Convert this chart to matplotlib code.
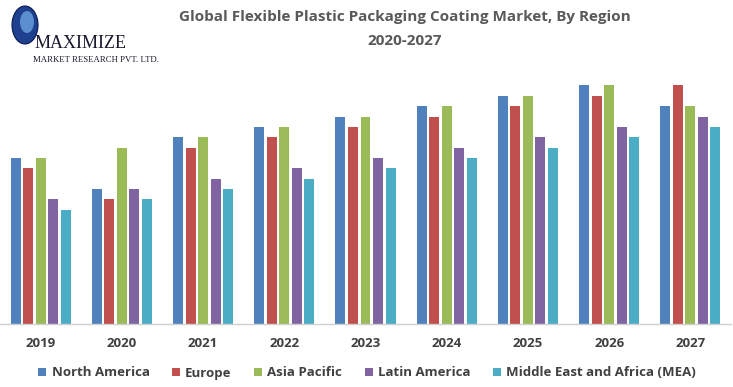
import matplotlib
matplotlib.use("Agg")
import matplotlib.pyplot as plt
import numpy as np
from matplotlib.patches import Ellipse

years = ["2019", "2020", "2021", "2022", "2023", "2024", "2025", "2026", "2027"]
regions = ["North America", "Europe", "Asia Pacific", "Latin America", "Middle East and Africa (MEA)"]
north_america = [16, 13, 18, 19, 20, 21, 22, 23, 21]
europe = [15, 12, 17, 18, 19, 20, 21, 22, 23]
asia_pacific = [16, 17, 18, 19, 20, 21, 22, 23, 21]
latin_america = [12, 13, 14, 15, 16, 17, 18, 19, 20]
mea = [11, 12, 13, 14, 15, 16, 17, 18, 19]
colors = ["#4F81BD", "#C0504D", "#9BBB59", "#8064A2", "#4BACC6"]

series = [north_america, europe, asia_pacific, latin_america, mea]

W, H = 733, 387
fig = plt.figure(figsize=(W / 100, H / 100), dpi=100)
plt.rcParams['font.family'] = ['Open Sans', 'DejaVu Sans']

base_px = 323.5
top_px = 75
ax = fig.add_axes([0, (H - base_px) / H, 731 / W, (base_px - top_px) / H])
x = np.arange(len(years))
bw = 0.123
pitch = 0.154
for i, (vals, c, name) in enumerate(zip(series, colors, regions)):
    ax.bar(x + (i - 2) * pitch, vals, width=bw, color=c, label=name)
ax.set_xlim(-0.5, len(years) - 0.5)
ax.set_ylim(0, (base_px - top_px) / 10.35)
for s in ["top", "right", "left"]:
    ax.spines[s].set_visible(False)
ax.spines["bottom"].set_color("#D0D0D0")
ax.spines["bottom"].set_linewidth(1.0)
ax.set_yticks([])
ax.set_xticks(x)
ax.set_xticklabels(years, fontsize=9.5, fontweight="bold", color="#404040")
ax.tick_params(axis="x", length=0, pad=10)

leg = fig.legend(loc="center", bbox_to_anchor=(367 / W, (H - 373) / H), ncol=5, frameon=False,
                 handlelength=0.6, handleheight=0.6, handletextpad=0.4, columnspacing=1.7,
                 prop={"size": 9.5, "weight": "bold"})
for t in leg.get_texts():
    t.set_color("#404040")

fig.text(405 / W, 1 - 17 / H, "Global Flexible Plastic Packaging Coating Market, By Region",
         ha="center", va="center", fontsize=11, fontweight="bold", color="#595959")
fig.text(405 / W, 1 - 41 / H, "2020-2027",
         ha="center", va="center", fontsize=11, fontweight="bold", color="#595959")

# logo
fig.patches.append(Ellipse((25 / W, 1 - 25 / H), 26 / W, 38 / H, transform=fig.transFigure,
                           facecolor="#1F3F8F", edgecolor="#0A1A50", lw=0.8, zorder=5))
fig.patches.append(Ellipse((27 / W, 1 - 22 / H), 14 / W, 22 / H, transform=fig.transFigure,
                           facecolor="#5B8FD0", edgecolor="none", zorder=6))
fig.text(35 / W, 1 - 44 / H, "MAXIMIZE", ha="left", va="center", fontsize=13,
         family=["Liberation Serif"], color="#1A1A2E")
fig.text(33 / W, 1 - 60 / H, "MARKET RESEARCH PVT. LTD.", ha="left", va="center", fontsize=6.3,
         family=["Liberation Serif"], color="#1A1A2E")

fig.savefig("out.png", dpi=100)
